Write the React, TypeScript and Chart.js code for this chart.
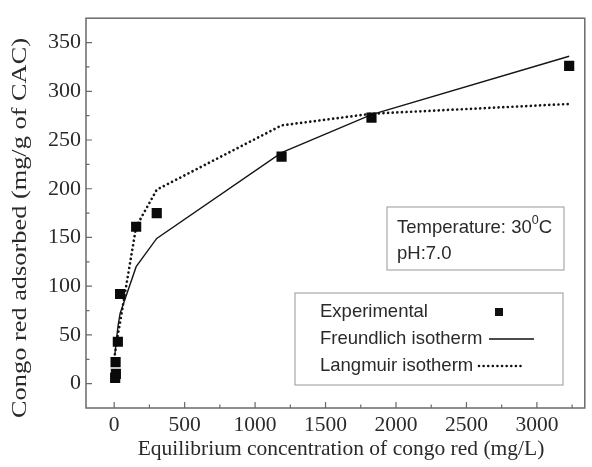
import React, { useEffect, useRef } from "react";
import { Chart, registerables } from "chart.js";

Chart.register(...registerables);

const expX = [7, 12, 10, 26, 42, 156, 302, 1188, 1826, 3229];
const expY = [6, 10, 22, 43, 92, 161, 175, 233, 273, 326];

const modelX = [5, 26, 42, 156, 302, 1188, 1826, 3229];
const freundlichY = [30, 58, 72, 120, 149, 237, 276, 336];
const langmuirY = [30, 50, 63, 161, 199, 265, 277, 287];

const xTicks = [0, 500, 1000, 1500, 2000, 2500, 3000];
const xMinorTicks = [250, 750, 1250, 1750, 2250, 2750, 3250];
const yTicks = [0, 50, 100, 150, 200, 250, 300, 350];
const yMinorTicks = [25, 75, 125, 175, 225, 275, 325];

const labels = ["Experimental", "Freundlich isotherm", "Langmuir isotherm"];
const xTitle = "Equilibrium concentration of congo red (mg/L)";
const yTitle = "Congo red adsorbed (mg/g of CAC)";

const FRAME = "#6a6a6a";
const TXT = "#2a2a2a";
const SERIF = "'Liberation Serif', 'Times New Roman', serif";
const SANS = "'Liberation Sans', Arial, sans-serif";

const framePlugin = {
  id: "frameTicks",
  beforeDatasetsDraw(chart: any) {
    const { ctx, chartArea: a, scales } = chart;
    ctx.save();
    ctx.strokeStyle = FRAME;
    ctx.lineWidth = 1.5;
    ctx.strokeRect(a.left, a.top, a.right - a.left, a.bottom - a.top);
    ctx.lineWidth = 1.2;
    ctx.beginPath();
    const xs = scales.x, ys = scales.y;
    xTicks.forEach((v) => {
      const p = xs.getPixelForValue(v);
      ctx.moveTo(p, a.bottom);
      ctx.lineTo(p, a.bottom - 6);
    });
    xMinorTicks.forEach((v) => {
      const p = xs.getPixelForValue(v);
      ctx.moveTo(p, a.bottom);
      ctx.lineTo(p, a.bottom - 3.5);
    });
    yTicks.forEach((v) => {
      const p = ys.getPixelForValue(v);
      ctx.moveTo(a.left, p);
      ctx.lineTo(a.left + 6, p);
    });
    yMinorTicks.forEach((v) => {
      const p = ys.getPixelForValue(v);
      ctx.moveTo(a.left, p);
      ctx.lineTo(a.left + 3.5, p);
    });
    ctx.stroke();
    ctx.restore();
  },
  afterDraw(chart: any) {
    const { ctx } = chart;
    ctx.save();
    // axis titles
    ctx.fillStyle = TXT;
    ctx.font = `21.5px ${SERIF}`;
    ctx.textAlign = "center";
    ctx.textBaseline = "alphabetic";
    ctx.fillText(xTitle, 341, 455);
    ctx.save();
    ctx.translate(26, 228);
    ctx.rotate(-Math.PI / 2);
    ctx.font = `21px ${SERIF}`;
    const yw = ctx.measureText(yTitle).width;
    ctx.scale(380 / yw, 1);
    ctx.fillText(yTitle, 0, 0);
    ctx.restore();

    // condition box
    ctx.textAlign = "left";
    ctx.fillStyle = "#fff";
    ctx.strokeStyle = "#a8a8a8";
    ctx.lineWidth = 1.2;
    ctx.fillRect(387, 207, 177, 63);
    ctx.strokeRect(387, 207, 177, 63);
    ctx.fillStyle = TXT;
    ctx.textBaseline = "middle";
    ctx.font = `18.5px ${SANS}`;
    const t1 = "Temperature: 30";
    ctx.fillText(t1, 397, 228);
    const w = ctx.measureText(t1).width;
    ctx.font = `12.5px ${SANS}`;
    ctx.fillText("0", 397 + w, 221);
    const w0 = ctx.measureText("0").width;
    ctx.font = `18.5px ${SANS}`;
    ctx.fillText("C", 397 + w + w0, 228);
    ctx.fillText("pH:7.0", 397, 254);

    // legend box
    ctx.fillStyle = "#fff";
    ctx.strokeStyle = "#a8a8a8";
    ctx.fillRect(295, 293, 268, 92);
    ctx.strokeRect(295, 293, 268, 92);
    ctx.fillStyle = TXT;
    ctx.font = `18.5px ${SANS}`;
    const rows = [312, 339, 366];
    labels.forEach((l, i) => ctx.fillText(l, 320, rows[i]));
    ctx.fillStyle = "#111";
    ctx.fillRect(495, rows[0] - 4, 8, 8);
    ctx.strokeStyle = "#111";
    ctx.lineWidth = 1.3;
    ctx.beginPath();
    ctx.moveTo(489, rows[1]);
    ctx.lineTo(534, rows[1]);
    ctx.stroke();
    ctx.lineWidth = 2.6;
    ctx.setLineDash([0.01, 4.6]);
    ctx.lineCap = "round";
    ctx.beginPath();
    ctx.moveTo(479, rows[2]);
    ctx.lineTo(525, rows[2]);
    ctx.stroke();
    ctx.restore();
  },
};

export default function App() {
  const ref = useRef<HTMLCanvasElement | null>(null);
  useEffect(() => {
    if (!ref.current) return;
    const toPts = (xs: number[], ys: number[]) => xs.map((x, i) => ({ x, y: ys[i] }));
    const chart = new Chart(ref.current, {
      type: "scatter",
      data: {
        datasets: [
          {
            label: labels[1],
            data: toPts(modelX, freundlichY),
            showLine: true,
            borderColor: "#151515",
            borderWidth: 1.4,
            pointRadius: 0,
            tension: 0,
            order: 2,
          },
          {
            label: labels[2],
            data: toPts(modelX, langmuirY),
            showLine: true,
            borderColor: "#151515",
            borderWidth: 2.7,
            borderDash: [0.01, 4.6],
            borderCapStyle: "round",
            pointRadius: 0,
            tension: 0,
            order: 3,
          },
          {
            label: labels[0],
            data: toPts(expX, expY),
            showLine: false,
            pointStyle: "rect",
            pointRadius: 7.2,
            backgroundColor: "#0a0a0a",
            borderColor: "#0a0a0a",
            borderWidth: 0,
            order: 1,
          },
        ],
      } as any,
      options: {
        animation: false,
        responsive: false,
        maintainAspectRatio: false,
        layout: { padding: { top: 15, right: 2, left: 0, bottom: 0 } },
        plugins: { legend: { display: false }, tooltip: { enabled: false } },
        scales: {
          x: {
            type: "linear",
            min: -200,
            max: 3340,
            afterBuildTicks: (s: any) => {
              s.ticks = xTicks.map((v) => ({ value: v }));
            },
            afterFit: (s: any) => {
              s.height = 59;
            },
            grid: { display: false, drawTicks: false },
            border: { display: false },
            ticks: {
              color: TXT,
              padding: 4,
              maxRotation: 0,
              autoSkip: false,
              callback: (v: any) => String(v),
              font: { family: SERIF, size: 21.5 },
            },
            title: { display: false },
          },
          y: {
            type: "linear",
            min: -25,
            max: 375,
            afterBuildTicks: (s: any) => {
              s.ticks = yTicks.map((v) => ({ value: v }));
            },
            afterFit: (s: any) => {
              s.width = 86;
            },
            grid: { display: false, drawTicks: false },
            border: { display: false },
            ticks: {
              color: TXT,
              padding: 5,
              autoSkip: false,
              callback: (v: any) => String(v),
              font: { family: SERIF, size: 22 },
            },
            title: { display: false },
          },
        },
      },
      plugins: [framePlugin],
    } as any);
    return () => chart.destroy();
  }, []);
  return (
    <div style={{ position: "fixed", left: 0, top: 0, width: 592, height: 467, background: "#fff" }}>
      <canvas ref={ref} width={592} height={467} style={{ display: "block" }} />
    </div>
  );
}
